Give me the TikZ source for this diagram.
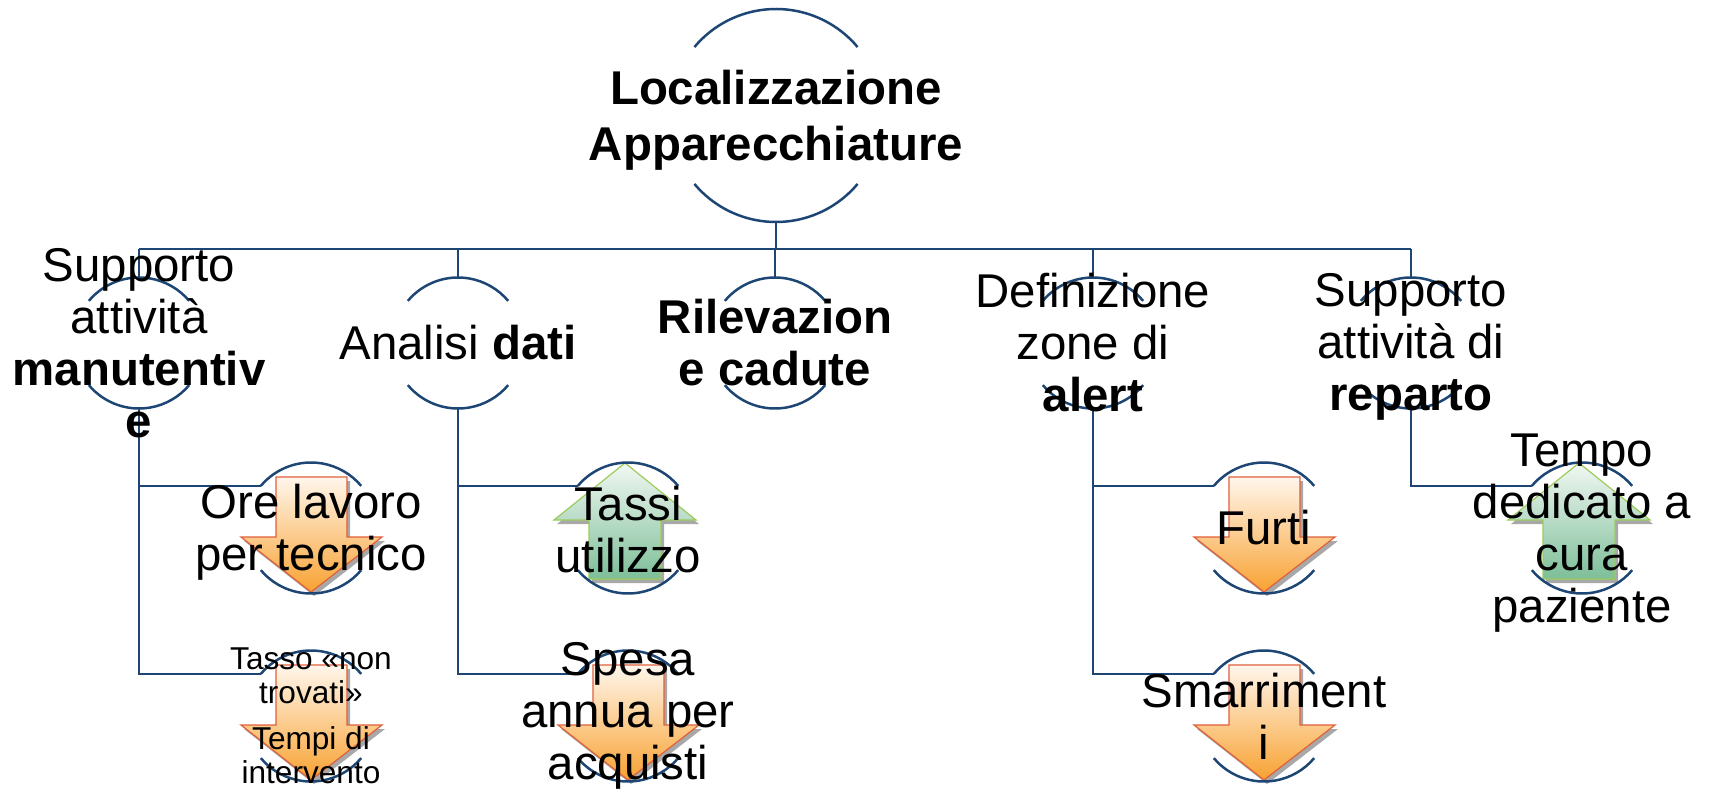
\documentclass[tikz,border=0pt]{standalone}
\usepackage{fontspec}
\setmainfont{Liberation Sans}
\definecolor{lnc}{HTML}{1D4674}
\definecolor{orA}{HTML}{FFF6EC}
\definecolor{orB}{HTML}{FBBC68}
\definecolor{orC}{HTML}{F8A232}
\definecolor{orL}{HTML}{E0603A}
\definecolor{grA}{HTML}{F1F8F3}
\definecolor{grB}{HTML}{A7D3BA}
\definecolor{grC}{HTML}{7DBE98}
\definecolor{grL}{HTML}{9BCC5A}
\definecolor{shd}{HTML}{A8A8A8}
\tikzset{
  link/.style={draw=lnc, line width=1.25pt},
  ring/.style={circle, minimum size=65.5pt, inner sep=0pt, outer sep=0pt},
  bigring/.style={circle, minimum size=106.5pt, inner sep=0pt, outer sep=0pt},
  lbl/.style={align=center, inner sep=0pt, font=\fontsize{23.7}{26}\selectfont},
  rootlbl/.style={align=center, inner sep=0pt, font=\bfseries\fontsize{23.7}{28}\selectfont},
  smalllbl/.style={align=center, inner sep=0pt, font=\fontsize{15.8}{17}\selectfont},
  downfill/.style={draw=orL, line width=0.6pt, top color=orA, middle color=orB, bottom color=orC},
  upfill/.style={draw=grL, line width=0.6pt, top color=grA, middle color=grB, bottom color=grC},
  shadowfill/.style={fill=shd}
}
\newcommand\arrdown[1]{%
  \begin{scope}[shift={(#1.center)}]
    \fill[shadowfill,shift={(3,4)}] (-35,-51) -- (36,-51) -- (36,9) -- (71,9) -- (0,64) -- (-70,9) -- (-35,9) -- cycle;
    \path[downfill] (-35,-51) -- (36,-51) -- (36,9) -- (71,9) -- (0,64) -- (-70,9) -- (-35,9) -- cycle;
  \end{scope}}
\newcommand\arrup[1]{%
  \begin{scope}[shift={(#1.center)}]
    \fill[shadowfill,shift={(3,4)}] (-3,-65) -- (68,-8) -- (33,-8) -- (33,51) -- (-39,51) -- (-39,-8) -- (-74,-8) -- cycle;
    \path[upfill] (-3,-65) -- (68,-8) -- (33,-8) -- (33,51) -- (-39,51) -- (-39,-8) -- (-74,-8) -- cycle;
  \end{scope}}
\newcommand\ringarcs[2]{%
  \draw[link] (#1.140) arc[start angle=140, end angle=40, radius=#2];
  \draw[link] (#1.220) arc[start angle=220, end angle=320, radius=#2];}
\begin{document}
\begin{tikzpicture}[x=0.5pt,y=-0.5pt]
\useasboundingbox (0,0) rectangle (1709,791);
% ring placeholders
\node[bigring] (r0) at (776,115.5) {};
\node[ring] (r1) at (139,343) {};
\node[ring] (r2) at (458,343) {};
\node[ring] (r3) at (775,343) {};
\node[ring] (r4) at (1093,343) {};
\node[ring] (r5) at (1411,343) {};
\node[ring] (c11) at (311,528) {};
\node[ring] (c12) at (311,716) {};
\node[ring] (c21) at (628,528) {};
\node[ring] (c22) at (628,716) {};
\node[ring] (c41) at (1264,528) {};
\node[ring] (c42) at (1264,716) {};
\node[ring] (c51) at (1582,528) {};
\coordinate (bus) at (0,249);
% arrows
\arrdown{c11}
\arrdown{c12}
\arrup{c21}
\arrdown{c22}
\arrdown{c41}
\arrdown{c42}
\arrup{c51}
% arcs
\ringarcs{r0}{53.25pt}
\foreach \n in {r1,r2,r3,r4,r5,c11,c12,c21,c22,c41,c42,c51}{\ringarcs{\n}{32.75pt}}
% connectors
\draw[link] (r0.south) -- (r0.south |- bus);
\draw[link] (r1.north |- bus) -- (r5.north |- bus);
\foreach \n in {r1,r2,r3,r4,r5}{\draw[link] (\n.north) -- (\n.north |- bus);}
\draw[link] (r1.south) |- (c11.140);
\draw[link] (r1.south) |- (c12.140);
\draw[link] (r2.south) |- (c21.140);
\draw[link] (r2.south) |- (c22.140);
\draw[link] (r4.south) |- (c41.140);
\draw[link] (r4.south) |- (c42.140);
\draw[link] (r5.south) |- (c51.140);
% texts
\node[rootlbl,yshift=-2.5pt] (t0) at (r0) {Localizzazione\\Apparecchiature};
\node[lbl] (t1) at (r1) {Supporto\\attività\\\textbf{manutentiv}\\\textbf{e}};
\node[lbl] (t2) at (r2) {Analisi \textbf{dati}};
\node[lbl,font=\bfseries\fontsize{23.7}{26}\selectfont] (t3) at (r3) {Rilevazion\\e cadute};
\node[lbl] (t4) at (r4) {Definizione\\zone di\\\textbf{alert}};
\node[lbl,yshift=-2pt] (t5) at (r5) {Supporto\\attività di\\\textbf{reparto}};
\node[lbl,yshift=-2pt] (u11) at (c11) {Ore lavoro\\per tecnico};
\node[smalllbl] (u12) at (c12) {Tasso «non\\trovati»\\[6pt]Tempi di\\intervento};
\node[lbl,yshift=-1pt] (u21) at (c21) {Tassi\\utilizzo};
\node[lbl] (u22) at (c22) {Spesa\\annua per\\acquisti};
\node[lbl] (u41) at (c41) {Furti};
\node[lbl] (u42) at (c42) {Smarriment\\i};
\node[lbl,yshift=-2.5pt] (u51) at (c51) {Tempo\\dedicato a\\cura\\paziente};
\end{tikzpicture}
\end{document}
